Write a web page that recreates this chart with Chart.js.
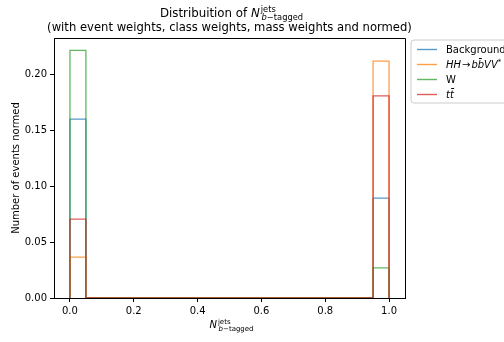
<!DOCTYPE html>
<html lang="en">
<head>
<meta charset="UTF-8">
<title>Distribuition of N b-tagged jets</title>
<script src="https://cdn.jsdelivr.net/npm/chart.js"></script>
<style>
  html, body { margin: 0; padding: 0; background: #fff; }
  #wrap { width: 504px; height: 342px; }
</style>
</head>
<body>
<div id="wrap"><canvas id="chart" width="504" height="342"></canvas></div>
<script>
// bin edges of the histogram (20 bins between 0 and 1)
const binEdges = [0.00, 0.05, 0.10, 0.15, 0.20, 0.25, 0.30, 0.35, 0.40, 0.45, 0.50,
                  0.55, 0.60, 0.65, 0.70, 0.75, 0.80, 0.85, 0.90, 0.95, 1.00];

// normed counts per bin, one list per class
const background = [0.1603, 0, 0, 0, 0, 0, 0, 0, 0, 0, 0, 0, 0, 0, 0, 0, 0, 0, 0, 0.0895];
const hhbbvv     = [0.0367, 0, 0, 0, 0, 0, 0, 0, 0, 0, 0, 0, 0, 0, 0, 0, 0, 0, 0, 0.2122];
const wJets      = [0.2218, 0, 0, 0, 0, 0, 0, 0, 0, 0, 0, 0, 0, 0, 0, 0, 0, 0, 0, 0.0269];
const ttbar      = [0.0707, 0, 0, 0, 0, 0, 0, 0, 0, 0, 0, 0, 0, 0, 0, 0, 0, 0, 0, 0.1810];

const xTicks = [0.0, 0.2, 0.4, 0.6, 0.8, 1.0];
const yTicks = [0.00, 0.05, 0.10, 0.15, 0.20];

const FONT = 'DejaVu Sans';
const ALPHA = 0.75;

// outline of a step histogram: up the first edge, across each bin, down the last edge
function stepPoints(vals) {
  const pts = [{ x: binEdges[0], y: 0 }];
  vals.forEach((v, i) => {
    pts.push({ x: binEdges[i], y: v });
    pts.push({ x: binEdges[i + 1], y: v });
  });
  pts.push({ x: binEdges[binEdges.length - 1], y: 0 });
  return pts;
}

const series = [
  { key: 'bkg', vals: background, color: '31,119,180' },
  { key: 'hh',  vals: hhbbvv,     color: '255,127,14' },
  { key: 'w',   vals: wJets,      color: '44,160,44' },
  { key: 'tt',  vals: ttbar,      color: '214,39,40' }
];

const yMax = Math.max(...background, ...hhbbvv, ...wJets, ...ttbar) * 1.05;

// draws a run of text pieces (for the math-ish labels), centred on cx
function drawRich(ctx, parts, cx, baseY) {
  let total = 0;
  parts.forEach(p => { ctx.font = p.font; p.w = ctx.measureText(p.t).width; total += p.w + (p.gap || 0); });
  let x = cx - total / 2;
  ctx.textAlign = 'left';
  ctx.textBaseline = 'alphabetic';
  parts.forEach(p => {
    ctx.font = p.font;
    ctx.fillText(p.t, x, baseY + (p.dy || 0));
    x += p.w + (p.gap || 0);
  });
}

function nLabel(size) {
  const small = (size * 0.7).toFixed(1);
  return [
    { t: 'N', font: `italic ${size}px ${FONT}`, gap: 1 },
    { t: 'jets', font: `${small}px ${FONT}`, dy: -size * 0.45, gap: -size * 1.2 },
    { t: 'b', font: `italic ${small}px ${FONT}`, dy: size * 0.25 },
    { t: '\u2212tagged', font: `${small}px ${FONT}`, dy: size * 0.25 }
  ];
}

const extras = {
  id: 'extras',
  afterDraw(chart) {
    const ctx = chart.ctx;
    const a = chart.chartArea;
    ctx.save();

    // top and right spines
    ctx.strokeStyle = '#000';
    ctx.lineWidth = 1;
    ctx.beginPath();
    ctx.moveTo(a.left, a.top + 0.5);
    ctx.lineTo(a.right + 0.5, a.top + 0.5);
    ctx.lineTo(a.right + 0.5, a.bottom);
    ctx.stroke();

    ctx.fillStyle = '#000';
    const cx = (a.left + a.right) / 2;

    // title, two lines
    const t1 = [{ t: 'Distribuition of ', font: `11.8px ${FONT}` }].concat(nLabel(11.8));
    drawRich(ctx, t1, cx + 2, 17);
    ctx.font = `11.6px ${FONT}`;
    ctx.textAlign = 'center';
    ctx.fillText('(with event weights, class weights, mass weights and normed)', cx, 31);

    // x axis label
    drawRich(ctx, nLabel(10), cx + 2, 328);

    // y axis label
    ctx.save();
    ctx.translate(19, (a.top + a.bottom) / 2);
    ctx.rotate(-Math.PI / 2);
    ctx.font = `10px ${FONT}`;
    ctx.textAlign = 'center';
    ctx.textBaseline = 'alphabetic';
    ctx.fillText('Number of events normed', 0, 0);
    ctx.restore();

    // legend box
    const lx = a.right + 6, ly = a.top + 2, lw = 98, lh = 63, r = 3;
    ctx.beginPath();
    ctx.moveTo(lx + r, ly);
    ctx.lineTo(lx + lw - r, ly);
    ctx.quadraticCurveTo(lx + lw, ly, lx + lw, ly + r);
    ctx.lineTo(lx + lw, ly + lh - r);
    ctx.quadraticCurveTo(lx + lw, ly + lh, lx + lw - r, ly + lh);
    ctx.lineTo(lx + r, ly + lh);
    ctx.quadraticCurveTo(lx, ly + lh, lx, ly + lh - r);
    ctx.lineTo(lx, ly + r);
    ctx.quadraticCurveTo(lx, ly, lx + r, ly);
    ctx.fillStyle = 'rgba(255,255,255,0.8)';
    ctx.fill();
    ctx.strokeStyle = '#cccccc';
    ctx.stroke();

    const labels = {
      bkg: [{ t: 'Background', font: `10px ${FONT}` }],
      hh: [
        { t: 'HH', font: `italic 10px ${FONT}`, gap: 1 },
        { t: '\u2192', font: `10px ${FONT}`, gap: 1 },
        { t: 'bb\u0304VV', font: `italic 10px ${FONT}` },
        { t: '*', font: `7px ${FONT}`, dy: -4 }
      ],
      w: [{ t: 'W', font: `10px ${FONT}` }],
      tt: [{ t: 'tt\u0304', font: `italic 10px ${FONT}` }]
    };
    series.forEach((s, i) => {
      const y = ly + 9 + i * 15;
      ctx.strokeStyle = `rgba(${s.color},${ALPHA})`;
      ctx.lineWidth = 1.4;
      ctx.beginPath();
      ctx.moveTo(lx + 6, y + 0.5);
      ctx.lineTo(lx + 26, y + 0.5);
      ctx.stroke();
      ctx.fillStyle = '#000';
      const parts = labels[s.key];
      let total = 0;
      parts.forEach(p => { ctx.font = p.font; total += ctx.measureText(p.t).width + (p.gap || 0); });
      drawRich(ctx, parts, lx + 35 + total / 2, y + 4);
    });

    ctx.restore();
  }
};

new Chart(document.getElementById('chart'), {
  type: 'scatter',
  data: {
    datasets: series.map((s, i) => ({
      label: s.key,
      data: stepPoints(s.vals),
      showLine: true,
      borderColor: `rgba(${s.color},${ALPHA})`,
      borderWidth: 1.3,
      pointRadius: 0,
      fill: false,
      order: series.length - i
    }))
  },
  options: {
    responsive: false,
    animation: false,
    layout: { padding: { top: 38, right: 99, left: 0, bottom: 0 } },
    plugins: {
      legend: { display: false },
      title: { display: false },
      tooltip: { enabled: false }
    },
    scales: {
      x: {
        type: 'linear',
        min: -0.05,
        max: 1.05,
        afterBuildTicks: ax => { ax.ticks = xTicks.map(v => ({ value: v })); },
        afterFit: ax => { ax.height = 44; },
        grid: { drawOnChartArea: false, drawTicks: true, tickLength: 4, color: '#000' },
        border: { color: '#000', width: 1 },
        ticks: {
          color: '#000',
          padding: 3,
          maxRotation: 0,
          font: { family: FONT, size: 10 },
          callback: v => v.toFixed(1)
        }
      },
      y: {
        type: 'linear',
        min: 0,
        max: yMax,
        afterBuildTicks: ax => { ax.ticks = yTicks.map(v => ({ value: v })); },
        afterFit: ax => { ax.width = 54; },
        grid: { drawOnChartArea: false, drawTicks: true, tickLength: 4, color: '#000' },
        border: { color: '#000', width: 1 },
        ticks: {
          color: '#000',
          padding: 3,
          font: { family: FONT, size: 10 },
          callback: v => v.toFixed(2)
        }
      }
    }
  },
  plugins: [extras]
});
</script>
</body>
</html>
